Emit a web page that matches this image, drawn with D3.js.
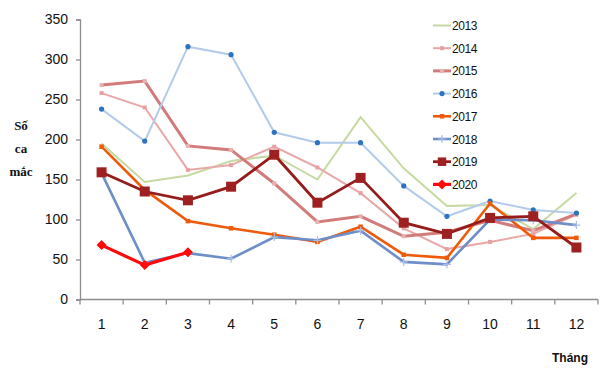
<!DOCTYPE html>
<html><head><meta charset="utf-8">
<script src="https://cdn.jsdelivr.net/npm/d3@7"></script>
<style>body{margin:0;background:#fff}svg{display:block}</style>
</head><body>
<svg id="c" width="600" height="372"></svg>
<script>
const months = [1,2,3,4,5,6,7,8,9,10,11,12];
const yTicks = [0,50,100,150,200,250,300,350];
const years = ["2013","2014","2015","2016","2017","2018","2019","2020"];
const s2013 = [195,147,155,173,180,150,228,164,117,118,88,133];
const s2014 = [258,240,162,168,191,165,133,89,63,72,82,106];
const s2015 = [268,273,192,187,145,97,104,79,84,99,86,107];
const s2016 = [238,198,316,306,209,196,196,142,104,123,112,108];
const s2017 = [191,137,98,89,81,72,91,56,52,120,77,77];
const s2018 = [158,46,58,51,78,74,86,47,44,100,99,93];
const s2019 = [159,135,124,141,181,121,152,96,82,102,104,65];
const s2020 = [68,43,59];
const yLabel = ["Số","ca","mắc"];
const xLabel = "Tháng";

const values = [s2013,s2014,s2015,s2016,s2017,s2018,s2019,s2020];
const styles = [
  {c:"#c6d9a0", w:2,   m:"none"},
  {c:"#e8a8a8", w:2,   m:"sq", ms:4, mc:"#e8a0a0"},
  {c:"#d27b7b", w:3,   m:"sq", ms:4, mc:"#e8b0b0"},
  {c:"#b3cbe9", w:2,   m:"dot", ms:2.6, mc:"#2e73c0"},
  {c:"#ee5a0a", w:2.6, m:"sq", ms:4.5, mc:"#ee5a0a"},
  {c:"#6d8ec9", w:2.6, m:"plus", ms:4, mc:"#a9bde0"},
  {c:"#961b1b", w:2.8, m:"bigsq", ms:10, mc:"#9e2020"},
  {c:"#ff0a0a", w:3.2, m:"diamond", ms:5, mc:"#ff0a0a"}
];

const svg = d3.select("#c");
const x = d3.scaleBand().domain(months).range([80,598]);
const y = d3.scaleLinear().domain([0,350]).range([299.5,19.5]);
const axisCol = "#8c8c8c";

// Y axis
const ya = svg.append("g").attr("transform","translate(80,0)")
  .call(d3.axisLeft(y).tickValues(yTicks).tickSize(4).tickPadding(8));
ya.select(".domain").attr("stroke",axisCol).attr("stroke-width",1.3);
ya.selectAll(".tick line").attr("stroke",axisCol).attr("stroke-width",1.3);
ya.selectAll(".tick text").attr("font-family","Liberation Sans, Arial, sans-serif")
  .attr("font-size",14).attr("fill","#111").attr("textLength",null);

// X axis
const xg = svg.append("g");
xg.append("line").attr("x1",x.range()[0]).attr("x2",x.range()[1])
  .attr("y1",y(0)).attr("y2",y(0)).attr("stroke",axisCol).attr("stroke-width",1.3);
const bounds = [months[0]].concat(months).map((m,i)=> i===0 ? x(m) : x(m)+x.bandwidth());
xg.selectAll("line.t").data(bounds).enter().append("line").attr("class","t")
  .attr("x1",d=>d).attr("x2",d=>d).attr("y1",y(0)).attr("y2",y(0)+5)
  .attr("stroke",axisCol).attr("stroke-width",1.3);
xg.selectAll("text").data(months).enter().append("text")
  .attr("x",d=>x(d)+x.bandwidth()/2).attr("y",328.5).attr("text-anchor","middle")
  .attr("font-family","Liberation Sans, Arial, sans-serif").attr("font-size",14).attr("fill","#111")
  .text(d=>d);

// axis titles
svg.append("g").selectAll("text").data(yLabel).enter().append("text")
  .attr("x",21).attr("y",(d,i)=>129.5+i*23).attr("text-anchor","middle")
  .attr("font-family","Liberation Serif, Times New Roman, serif").attr("font-weight","bold")
  .attr("font-size",13).attr("fill","#111").text(d=>d);
svg.append("text").attr("x",552).attr("y",362)
  .attr("font-family","Liberation Sans, Arial, sans-serif").attr("font-weight","bold")
  .attr("font-size",12).attr("fill","#111").text(xLabel);

function marker(g, st, cx, cy, scale){
  const s = st.ms*(scale||1);
  if (st.m==="sq") g.append("rect").attr("x",cx-s/2).attr("y",cy-s/2).attr("width",s).attr("height",s).attr("fill",st.mc);
  else if (st.m==="bigsq") g.append("rect").attr("x",cx-s/2).attr("y",cy-s/2).attr("width",s).attr("height",s).attr("fill",st.mc);
  else if (st.m==="dot") g.append("circle").attr("cx",cx).attr("cy",cy).attr("r",s).attr("fill",st.mc);
  else if (st.m==="plus") g.append("path").attr("d",`M${cx-s},${cy}H${cx+s}M${cx},${cy-s}V${cy+s}`).attr("stroke",st.mc).attr("stroke-width",1.2);
  else if (st.m==="diamond") g.append("path").attr("d",`M${cx},${cy-s}L${cx+s},${cy}L${cx},${cy+s}L${cx-s},${cy}Z`).attr("fill",st.mc);
}

const line = d3.line().x((d,i)=>x(months[i])+x.bandwidth()/2).y(d=>y(d));
const plot = svg.append("g");
values.forEach((vals,k)=>{
  const st = styles[k];
  const g = plot.append("g");
  g.append("path").datum(vals).attr("d",line).attr("fill","none")
    .attr("stroke",st.c).attr("stroke-width",st.w).attr("stroke-linejoin","miter");
  vals.forEach((v,i)=>marker(g,st,x(months[i])+x.bandwidth()/2,y(v)));
});

// legend
const lg = svg.append("g");
years.forEach((yr,k)=>{
  const st = styles[k];
  const cy = 25.5 + k*22.7;
  const g = lg.append("g");
  g.append("line").attr("x1",433).attr("x2",451).attr("y1",cy).attr("y2",cy)
    .attr("stroke",st.c).attr("stroke-width",st.w);
  marker(g,st,442,cy, st.m==="bigsq"?0.85:1);
  g.append("text").attr("x",452).attr("y",cy+4.5)
    .attr("font-family","Liberation Sans, Arial, sans-serif").attr("font-size",12)
    .attr("letter-spacing","-0.4").attr("fill","#111").text(yr);
});
</script>
</body></html>
